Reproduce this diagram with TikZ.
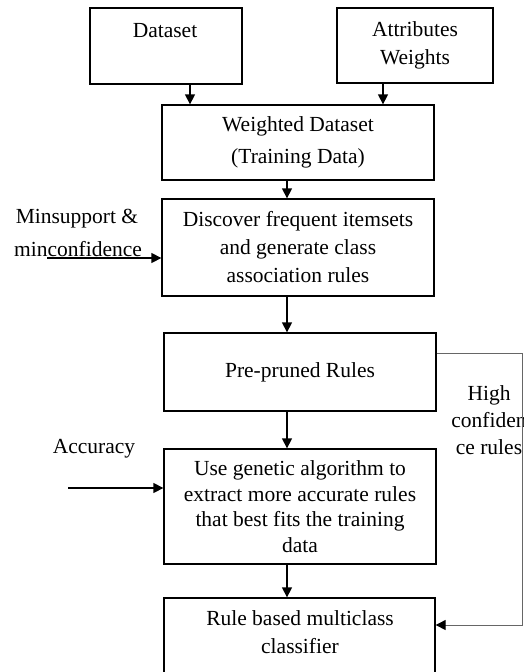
\documentclass[tikz,border=0pt]{standalone}
\usepackage{fontspec}
\setmainfont{Liberation Serif}
\usetikzlibrary{arrows.meta}
\begin{document}
\begin{tikzpicture}[x=1pt,y=-1pt,
  every node/.style={font=\fontsize{21.5}{28}\selectfont},
  box/.style={draw,line width=1.3pt,inner sep=0pt,align=center},
  txt/.style={align=center,inner sep=0pt},
  arr/.style={line width=1.3pt,-{Triangle[length=10pt,width=10pt]}},
  fbline/.style={line width=1pt,draw=black!60,-{Triangle[length=10pt,width=10pt,color=black]}}]
\clip (0,0) rectangle (524,672);
% boxes
\node[box,minimum width=152pt,minimum height=76pt] (ds) at (166,46) {};
\node[txt] (dst) at (165,31) {Dataset};
\node[box,minimum width=156pt,minimum height=75pt] (aw) at (415,45.5) {Attributes\\Weights};
\node[box,minimum width=272pt,minimum height=75pt] (wd) at (298,142.5) {Weighted Dataset\\[4pt](Training Data)};
\node[box,minimum width=272pt,minimum height=97pt] (disc) at (298,247.5) {Discover frequent itemsets\\and generate class\\association rules};
\node[box,minimum width=272pt,minimum height=78pt] (pp) at (300,372) {Pre-pruned Rules};
\node[box,minimum width=272pt,minimum height=115pt,font=\fontsize{21.5}{25.5}\selectfont] (ga) at (300,506.5) {Use genetic algorithm to\\extract more accurate rules\\that best fits the training\\data};
\node[box,minimum width=271pt,minimum height=104pt] (rb) at (299.5,650) {};
\node[txt] (rbt) at (300,632) {Rule based multiclass\\classifier};
% side labels
\node[txt] (ms1) at (77,219) {Minsupport \&};
\node[txt] (ms2) at (78,249) {minconfidence};
\node[txt] (acc) at (94,449) {Accuracy};
\node[txt,font=\fontsize{21.5}{27}\selectfont] (hc) at (489,420) {High\\confiden\\ce rules};
% coordinates
\coordinate (c1) at (190,0);
\coordinate (c2) at (383,0);
\coordinate (c3) at (287,0);
\coordinate (ms) at (47,258);
\coordinate (ac) at (68,488);
\coordinate (fbT) at (522,353);
\coordinate (fbB) at (522,625);
% arrows
\draw[arr] (ds.south -| c1) -- (wd.north -| c1);
\draw[arr] (aw.south -| c2) -- (wd.north -| c2);
\draw[arr] (wd.south -| c3) -- (disc.north -| c3);
\draw[arr] (disc.south -| c3) -- (pp.north -| c3);
\draw[arr] (pp.south -| c3) -- (ga.north -| c3);
\draw[arr] (ga.south -| c3) -- (rb.north -| c3);
\draw[arr] (ms) -- (ms -| disc.west);
\draw[arr] (ac) -- (ac -| ga.west);
\draw[fbline] (fbT -| pp.east) -- (fbT) -- (fbB) -- (fbB -| rb.east);
\end{tikzpicture}
\end{document}
